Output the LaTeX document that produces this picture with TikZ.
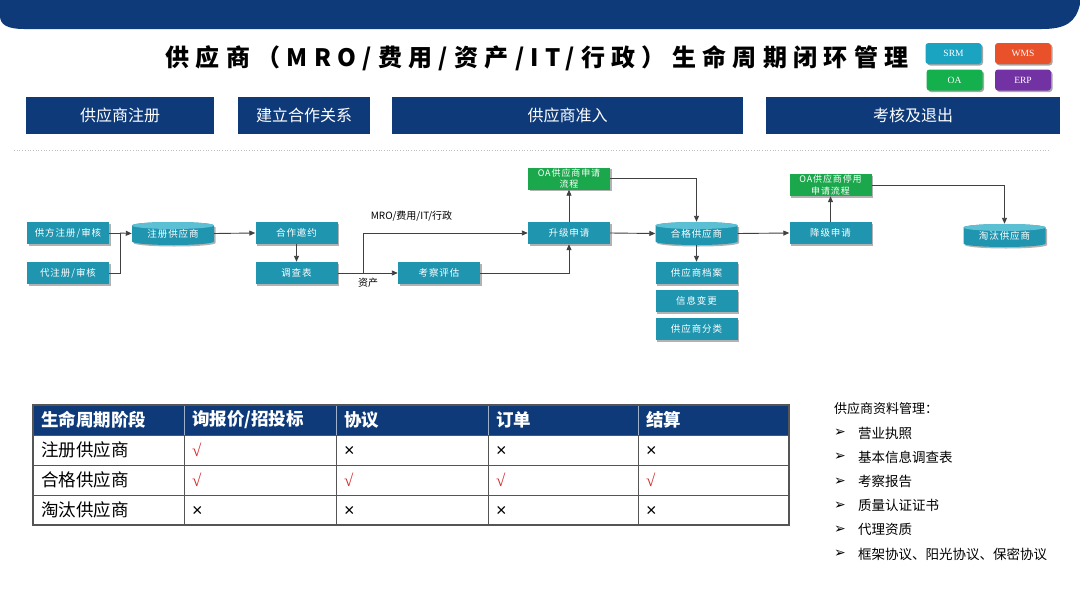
\documentclass[tikz,border=0pt]{standalone}
\usepackage{fontspec}
\setmainfont{Noto Sans CJK SC}
\newfontfamily\cjk{Noto Sans CJK SC}
\newfontfamily\flowfont[LetterSpace=10]{Noto Sans CJK SC}
\newfontfamily\titlefont[LetterSpace=26.5]{Noto Sans CJK SC}
\newfontfamily\serifx{Liberation Serif}
\newfontfamily\sansx{Liberation Sans}
\newfontfamily\dejavu{DejaVu Sans}
\usetikzlibrary{arrows.meta,shadows}
\definecolor{navy}{HTML}{0E3A7A}
\definecolor{tealc}{HTML}{1F95B0}
\definecolor{tealtop}{HTML}{5CC0D4}
\definecolor{greenc}{HTML}{1BA84C}
\definecolor{linec}{HTML}{404040}
\definecolor{srmc}{HTML}{1BA3C2}
\definecolor{wmsc}{HTML}{E8512A}
\definecolor{oac}{HTML}{14B04D}
\definecolor{erpc}{HTML}{7232A3}
\definecolor{chk}{HTML}{D42A2A}
\definecolor{gridc}{HTML}{555555}
\tikzset{
  x=1pt,y=1pt,
  flowbox/.style={fill=tealc, text=white, minimum width=82pt, minimum height=22pt, inner sep=0pt,
    font=\flowfont\fontsize{9.5}{10}\selectfont,
    drop shadow={shadow xshift=1.5pt,shadow yshift=-1.5pt,opacity=0.3,fill=black}},
  greenbox/.style={flowbox, fill=greenc, align=center, font=\flowfont\fontsize{9}{11.5}\selectfont},
  cyltext/.style={text=white, minimum width=82pt, minimum height=23pt, inner sep=0pt,
    font=\flowfont\fontsize{9.5}{10}\selectfont},
  hdr/.style={fill=navy, text=white, minimum height=37pt, inner sep=0pt, font=\cjk\fontsize{16}{18}\selectfont},
  legend/.style={rounded corners=3pt, minimum width=56pt, minimum height=21pt, inner sep=0pt, text=white,
    font=\serifx\fontsize{9.5}{10}\selectfont,
    drop shadow={shadow xshift=1.5pt,shadow yshift=-1.5pt,opacity=0.35,fill=black}},
  ln/.style={draw=linec, line width=0.9pt},
  arr/.style={ln, -{Triangle[length=6pt,width=5pt]}},
  thead/.style={anchor=west, text=white, inner sep=0pt, font=\cjk\bfseries\fontsize{17.5}{20}\selectfont},
  tcell/.style={anchor=west, inner sep=0pt, font=\cjk\fontsize{17.5}{20}\selectfont},
  tchk/.style={anchor=west, inner sep=0pt, text=chk, font=\serifx\fontsize{17}{18}\selectfont},
  tx/.style={anchor=west, inner sep=0pt, font=\sansx\fontsize{18}{20}\selectfont},
  listtxt/.style={anchor=west, inner sep=0pt, font=\cjk\fontsize{13.5}{15}\selectfont},
  bul/.style={anchor=west, inner sep=0pt, font=\dejavu\fontsize{14}{15}\selectfont},
  lbl/.style={inner sep=0pt, font=\cjk\fontsize{10}{12}\selectfont},
}
% cylinder: name, cx, top y, text
\newcommand\mycyl[4]{%
  \fill[black,opacity=0.3] (#2-41+1.5,#3-3.5-1.5) -- (#2-41+1.5,#3-19.5-1.5)
     arc[start angle=180,end angle=360,x radius=41,y radius=3.5] -- (#2+41+1.5,#3-3.5-1.5) -- cycle;
  \fill[tealc] (#2-41,#3-3.5) -- (#2-41,#3-19.5)
     arc[start angle=180,end angle=360,x radius=41,y radius=3.5] -- (#2+41,#3-3.5)
     arc[start angle=0,end angle=180,x radius=41,y radius=3.5] -- cycle;
  \fill[tealtop] (#2,#3-3.5) ellipse[x radius=41,y radius=3.5];
  \node[cyltext] (#1) at (#2,#3-11.5) {#4};
}
\begin{document}
\begin{tikzpicture}
\useasboundingbox (0,0) rectangle (1080,-608);
\fill[white] (0,0) rectangle (1080,-608);
% top band
\fill[navy] (0,0) -- (1080,0) -- (1080,-4) .. controls (1076,-22) and (1066,-29) .. (1042,-29)
  -- (24,-29) .. controls (8,-29) and (0,-25) .. (0,-16) -- cycle;
% title
\node[inner sep=0pt, font=\titlefont\bfseries\fontsize{24}{28}\selectfont] (title) at (537,-58)
  {供应商（MRO/费用/资产/IT/行政）生命周期闭环管理};
% legend
\node[legend, fill=srmc] (srm) at (953.5,-53.5) {SRM};
\node[legend, fill=wmsc] (wms) at (1023,-53.5) {WMS};
\node[legend, fill=oac] (oa) at (954.5,-80) {OA};
\node[legend, fill=erpc] (erp) at (1023,-80) {ERP};
% stage headers
\node[hdr, minimum width=188pt] (h1) at (120,-115.5) {供应商注册};
\node[hdr, minimum width=132pt] (h2) at (304,-115.5) {建立合作关系};
\node[hdr, minimum width=351pt] (h3) at (567.5,-115.5) {供应商准入};
\node[hdr, minimum width=294pt] (h4) at (913,-115.5) {考核及退出};
\draw[black!25, line width=0.7pt, dotted] (14,-150) -- (1050,-150);
% flow nodes
\node[flowbox] (gf) at (68,-233) {供方注册/审核};
\node[flowbox] (dz) at (68,-273) {代注册/审核};
\mycyl{zc}{173}{-222}{注册供应商}
\node[flowbox] (hz) at (296.5,-233) {合作邀约};
\node[flowbox] (dc) at (296.5,-273) {调查表};
\node[flowbox] (kc) at (439,-273) {考察评估};
\node[flowbox] (sj) at (569,-233) {升级申请};
\node[greenbox] (oa1) at (569,-178.5) {OA供应商申请\\流程};
\mycyl{hg}{696.5}{-222}{合格供应商}
\node[flowbox] (da) at (696.5,-273) {供应商档案};
\node[flowbox] (xx) at (696.5,-301) {信息变更};
\node[flowbox] (fl) at (696.5,-329) {供应商分类};
\node[flowbox] (jj) at (830.5,-233) {降级申请};
\node[greenbox] (oa2) at (830.5,-185) {OA供应商停用\\申请流程};
\mycyl{tt}{1004.5}{-224}{淘汰供应商}
% connectors
\coordinate (j1) at (120,-233);
\coordinate (j2) at (363,-273);
\draw[ln] (gf.east) -- (j1);
\draw[ln] (dz.east) -| (j1);
\draw[arr] (j1) -- (zc.west);
\draw[arr] (zc.east) -- (hz.west);
\draw[arr] (hz.south) -- (dc.north);
\draw[arr] (dc.east) -- (kc.west);
\draw[arr] (j2) |- (sj.west);
\draw[arr] (kc.east) -| (sj.south);
\draw[arr] (sj.north) -- (oa1.south);
\draw[arr] (oa1.east) -| (hg.north);
\draw[arr] (sj.east) -- (hg.west);
\draw[arr] (hg.south) -- (da.north);
\draw[arr] (hg.east) -- (jj.west);
\draw[arr] (jj.north) -- (oa2.south);
\draw[arr] (oa2.east) -| (tt.north);
\node[lbl] (l1) at (411.5,-216) {MRO/费用/IT/行政};
\node[lbl] (l2) at (368,-283) {资产};
% table
\fill[navy] (33,-405) rectangle (789,-435);
\foreach \x in {184,336,488,638} {
  \draw[white!60!navy, line width=0.6pt] (\x,-405) -- (\x,-435);
  \draw[gridc, line width=1pt] (\x,-435) -- (\x,-525);
}
\foreach \y in {465,495} { \draw[gridc, line width=1pt] (33,-\y) -- (789,-\y); }
\draw[gridc, line width=1pt] (33,-435) -- (789,-435);
\draw[gridc, line width=1.2pt] (33,-405) rectangle (789,-525);
\node[thead] (t00) at (41,-420) {生命周期阶段};
\node[thead] (t01) at (192,-420) {询报价/招投标};
\node[thead] (t02) at (344,-420) {协议};
\node[thead] (t03) at (496,-420) {订单};
\node[thead] (t04) at (646,-420) {结算};
\node[tcell] (t10) at (41,-450) {注册供应商};
\node[tchk] (t11) at (192,-450) {√};
\node[tx] (t12) at (344,-451) {×};
\node[tx] (t13) at (496,-451) {×};
\node[tx] (t14) at (646,-451) {×};
\node[tcell] (t20) at (41,-480) {合格供应商};
\node[tchk] (t21) at (192,-480) {√};
\node[tchk] (t22) at (344,-480) {√};
\node[tchk] (t23) at (496,-480) {√};
\node[tchk] (t24) at (646,-480) {√};
\node[tcell] (t30) at (41,-510) {淘汰供应商};
\node[tx] (t31) at (192,-511) {×};
\node[tx] (t32) at (344,-511) {×};
\node[tx] (t33) at (496,-511) {×};
\node[tx] (t34) at (646,-511) {×};
% list
\node[listtxt, font=\cjk\fontsize{13}{15}\selectfont] (lt) at (834,-409) {供应商资料管理：};
\foreach \t [count=\i from 0] in {营业执照,基本信息调查表,考察报告,质量认证证书,代理资质,{框架协议、阳光协议、保密协议}} {
  \node[bul] (b\i) at (834,-433-24.2*\i) {➢};
  \node[listtxt] (li\i) at (858,-433-24.2*\i) {\t};
}
\end{tikzpicture}
\end{document}
